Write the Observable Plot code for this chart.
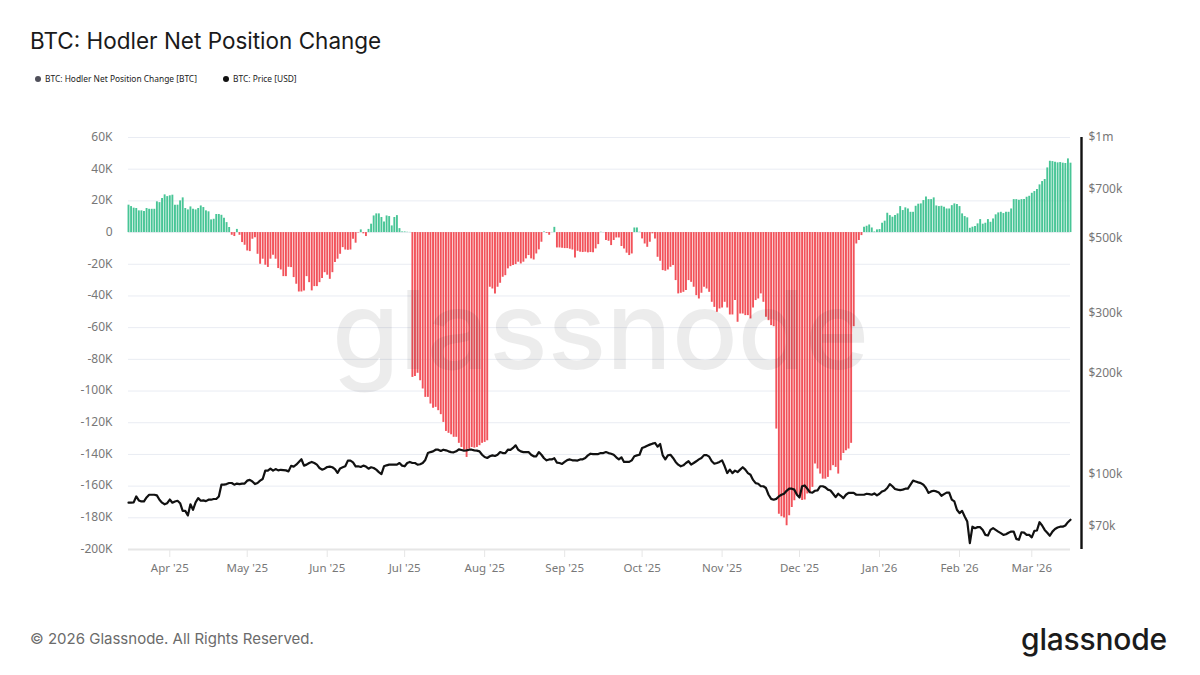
<!DOCTYPE html>
<html>
<head>
<meta charset="utf-8">
<script src="https://cdn.jsdelivr.net/npm/d3@7"></script>
<script src="https://cdn.jsdelivr.net/npm/@observablehq/plot@0.6"></script>
<style>
html,body{margin:0;padding:0;background:#fff;width:1200px;height:675px;overflow:hidden}
#page{position:relative;width:1200px;height:675px;font-family:Inter,"Noto Sans",sans-serif}
#head{position:relative;height:110px}
#title{position:absolute;left:30px;top:27px;font-size:22.5px;line-height:28px;color:#1a1a1a;font-weight:400}
.leg{position:absolute;top:73px;font-family:"Noto Sans",sans-serif;font-size:8.4px;line-height:12px;color:#222;white-space:nowrap}
.leg i{display:inline-block;width:6px;height:6px;border-radius:50%;margin-right:4px;vertical-align:0}
#chart{height:490px}
#chart svg{display:block}
#foot{position:relative;height:75px}
#copy{position:absolute;left:30px;top:29px;font-size:15px;line-height:20px;color:#6b6b6b}
#logo{position:absolute;left:1021px;top:19px;font-size:30px;line-height:40px;font-weight:500;color:#1b1b1b;letter-spacing:-.2px}
#mark{position:absolute;left:332px;top:259px;font-size:109px;line-height:140px;font-weight:500;color:rgba(30,30,40,.085);pointer-events:none}
</style>
</head>
<body>
<div id="page">
  <div id="head">
    <div id="title">BTC: Hodler Net Position Change</div>
    <div class="leg" style="left:35px"><i style="background:#50505a"></i>BTC: Hodler Net Position Change [BTC]</div>
    <div class="leg" style="left:223px"><i style="background:#111"></i>BTC: Price [USD]</div>
  </div>
  <div id="chart"></div>
  <div id="foot">
    <div id="copy">© 2026 Glassnode. All Rights Reserved.</div>
    <div id="logo">glassnode</div>
  </div>
  <div id="mark">glassnode</div>
</div>
<script>
const startDate = "2025-03-16";

// Hodler net position change, thousand BTC, one value per day
const changeMarApr = [17.3,16.4,15.4,15.2,13.7,13.7,13.3,15.2,14.7,14.7,14.7,19.4,18.9,21.5,23.8,22.7,23.2,23.6,17.3,17.3,20,21.9,15.2,14.3,16.2,14.7,14.3,15.2,16.8,15.8,13.7,13.1,8,8.4,11.4,11.4,10.9,9.1,6.3,3.2];
const changeMayJun = [-1.7,-2.5,2,-1.7,-6.3,-8,-11.6,-12,-4.2,-3.2,-13.7,-20,-16.8,-20.6,-22,-16.8,-14.3,-16.8,-22.7,-23.6,-27.8,-27.8,-21.9,-22.1,-28.4,-32.6,-37.5,-37.5,-36.8,-27.8,-31.6,-36.8,-34.1,-34.1,-31.6,-29,-25.3,-26.9,-29.5,-25.3,-18.9,-16.8,-13.7,-9.5,-11,-11.2,-11,-4.2,-6.7,-0.3,1.7,-0.8,-2.5,2,5.3,10.5,11.8,11.8,9.5,6.7,10.5,10.1,4.2,9.5,10.7,2.5,0.4,0.4,0.2,0.1];
const changeJul = [-91.4,-90.9,-88.8,-93.5,-98.7,-104,-104,-108.2,-110.9,-110.3,-112.4,-114.9,-119.8,-125.5,-126.7,-127.6,-129.2,-129.2,-133,-135.6,-137.2,-141.9,-136.6,-135.6,-136,-135.6,-134.5,-133,-132.4,-131.4];
const changeAug = [-34.5,-35.6,-38.7,-34.5,-32,-28.2,-27.2,-22.9,-21.5,-20.8,-20.2,-18.7,-19.8,-18.7,-16.6,-14.5,-16.6,-17.3,-13.5,-10.9,-6.1,0.3,-0.5,-1.7,0.1,3.3];
const changeSep = [-9.7,-9.7,-9.9,-10.1,-10.1,-10.5,-11,-16,-11.8,-12.4,-12.6,-12.4,-12.8,-12.6,-12.8,-10.3,-7.6,0.2,-0.1,-5,-5.5,-8.2,-5,-3.4,-3.4,-8.8,-10.3,-13,-14.5,-13.5,2.9,2.9,0.2];
const changeOctNov = [-4,-7.2,-9.3,-6.1,-0.8,-4,-15.6,-18.1,-24,-24.4,-23.6,-21.9,-20.8,-30.3,-38.7,-38.3,-37.7,-36.6,-30.3,-31.4,-34.5,-39.8,-41.9,-38.3,-34.5,-35.6,-37.7,-44,-47.2,-50.3,-48.2,-47.6,-44,-47.6,-52,-52,-42.9,-56.6,-51.4,-51.4,-52.4,-52.4,-54.5,-47.6,-42.9,-41.9,-38.7,-44,-53.5,-55.6,-58.7,-59.4];
const changeDec = [-124,-177.7,-179.4,-180.2,-185,-178.7,-173.5,-169.2,-166,-166,-169,-168.8,-165,-164,-160.8,-146,-149.2,-152.4,-155.6,-155.6,-154.5,-150.3,-147.1,-148.2,-152.4,-144,-139.4,-137.7,-136.6,-133,-59.4,-7.2,-5,-1.9];
const changeJanMar = [3.4,4,4.8,2.9,0.4,1.7,1.9,5.9,7.2,12.2,10.7,9.7,10.7,11.8,16.4,13.9,15.6,14.9,12.8,12.8,16.6,17.9,18.1,20.2,22.5,20.8,20.8,21.9,16.8,16.4,16.6,16,14.9,14.9,17,18.1,17.7,16.4,11.8,10.1,9.3,2.7,3.4,3.8,5.5,8.2,5.3,5.9,8.2,6.5,8.6,11.2,12.4,12.8,12,12.8,12.8,14.9,20.8,20.8,20.4,20.8,20.8,22.3,22.9,24.8,25.9,27.2,30.1,32.2,33.5,40.8,45,44.8,44.4,44,44.2,43.8,43.6,46.5,43.8];

// BTC price, thousand USD, one value per day
const priceSpringSummer = [82.6,82.6,82.8,86.2,83.9,83.3,83.3,85.6,87.2,87.2,87.2,86.8,84.3,82.6,81.7,82.3,84.4,82.6,83.3,83.7,82.3,78.1,78.1,75.7,81.7,78.7,82.8,85.2,83.7,83.9,83.5,84.3,84.3,84.7,84.7,86.2,93.4,93.4,93.8,94.5,94.5,93.4,94.1,93.8,94.1,94.1,96,96.5,95.5,93.8,94.5,96,97.1,102.8,102.8,104.2,102.8,103.9,103,103.4,103.2,103,102.3,106.2,105.7,107.1,109.1,111.1,106.4,107.1,108.3,109.1,108.3,107.1,104.7,103.5,104.2,105.4,105.7,105.2,103.9,101.2,104.4,105.2,105.9,110.1,110.1,108.8,105.9,105.9,105.4,106.4,105.7,104.2,105.2,104.7,103.5,101.8,100.4,105.9,106.6,107.1,107.1,107.1,107.1,108.3,106.4,105.9,108.3,109.1,108.3,108.3,107.1,107.4,108.3,110.6,115.9,116.7,117.3,118.6,118.6,117.6,118.6,118.1,117.3,116.7,116.5,117.3,118.9,118.4,117.9,118.1,118.6];
const priceAutumn = [118.6,118.1,117.9,117.3,114.6,112.8,112.1,113.4,114.1,113.6,114.6,116.7,115.9,115.9,118.6,118.4,120,122.2,118.6,117.3,116.7,116.7,116.7,114.6,113.4,113.4,116.7,114.6,111.9,110.3,111,111,111.9,108.6,108.3,107.6,109.1,110.5,111,110.3,110.3,110.1,111,111.1,112.1,114.1,115.4,115.1,115.1,115.1,115.9,115.9,116.7,115.9,115.4,114.6,112.6,111,112.6,109.1,109.1,109.1,110.3,113.4,114.1,114.6,120,120.8,121.9,122.8,123.6,124.2,121.1,123.3,114.1,111,114.1,114.6,112.1,109.1,107.1,105.9,106.6,108.3,109.6,107.1,108.3,109.6,111,112.1,114.3,114.3,113.1,109.6,107.8,108.3,109.1,110.3,105.9,101.1,103.5,101.1,102.8,101.8,103.5,105.2,103.5,101.1,100,96.5,94.4,94,92.4,92.4,91.3,87.2,84.8,84.3,84.8,86.2,87.2,87.8,89.6,90.9,90.9,90.3,87.2,85.6,92.4,92.9,90.9];
const priceWinter = [88.7,88.5,89.6,89.8,92.4,92.4,91.7,90.3,89.8,87.8,85.8,87.8,86.6,85.2,87.2,88.3,88.3,88.3,87.2,87.2,87.2,87.2,87.8,87.6,87.2,88,86.8,87.8,89.2,89.8,91.3,93.8,92.4,90.7,90.3,90,90.3,90.9,90.9,93.4,96,95.5,94.9,94.4,93.4,91.3,88.3,89.2,89.6,89.2,88.5,86.6,87.6,88.5,88.5,84.3,83.3,78.7,76.9,78.1,75.2,72.6,62.7,70.1,69.4,69.9,69.9,68.6,66.3,66,68.6,69.4,68.6,67.8,67.1,66.3,66.6,67.3,67.8,67.8,64.5,64.1,67.5,67.3,66.3,66.3,65.2,68.1,68.3,72.3,70.7,68.6,67.3,65.9,67.8,69,69.7,70.1,70.1,70.7,72.3,73.5];

// Axis ticks
const changeTicks = [60,40,20,0,-20,-40,-60,-80,-100,-120,-140,-160,-180,-200];
const priceTicks = [1000,700,500,300,200,100,70];
const priceLabels = ["$1m","$700k","$500k","$300k","$200k","$100k","$70k"];
const monthTicks = ["2025-04-01","2025-05-01","2025-06-01","2025-07-01","2025-08-01","2025-09-01","2025-10-01","2025-11-01","2025-12-01","2026-01-01","2026-02-01","2026-03-01"];

const change = [...changeMarApr,...changeMayJun,...changeJul,...changeAug,...changeSep,...changeOctNov,...changeDec,...changeJanMar];
const price = [...priceSpringSummer,...priceAutumn,...priceWinter];
const day0 = new Date(startDate + "T00:00:00Z");
const rows = change.map((v,i)=>({date:d3.utcDay.offset(day0,i), change:v, price:price[i]}));

// The price runs on its own log axis, mapped onto the shared y scale
const priceToY = d3.scaleLog().domain([60,1000]).range([-200,60]);
const dayEnd = d3.utcDay.offset(day0,365);

const plot = Plot.plot({
  width:1200, height:490,
  marginTop:27, marginBottom:51, marginLeft:128, marginRight:130,
  style:{fontFamily:'"Noto Sans",sans-serif',fontSize:"12px",background:"transparent",overflow:"visible"},
  x:{type:"utc",domain:[day0,dayEnd]},
  y:{domain:[-200,60]},
  marks:[
    Plot.gridY(changeTicks,{stroke:"#e9ecf3",strokeOpacity:1,strokeWidth:1}),
    Plot.ruleY([-200],{stroke:"#e6e6e6",strokeWidth:2}),
    Plot.ruleX(rows.filter(d=>d.change>=0),{x:"date",y1:0,y2:"change",stroke:"#48c596",strokeWidth:1.9}),
    Plot.ruleX(rows.filter(d=>d.change<0),{x:"date",y1:0,y2:"change",stroke:"#f2525a",strokeWidth:1.9}),
    Plot.line(rows,{x:"date",y:d=>priceToY(d.price),stroke:"#111",strokeWidth:2.2,strokeLinejoin:"round"}),
    Plot.ruleX([dayEnd],{dx:11,y1:-200,y2:60,stroke:"#111",strokeWidth:2.4}),
    Plot.axisY(changeTicks,{anchor:"left",label:null,tickSize:0,tickPadding:16,fill:"#777",dy:-0.5,tickFormat:d=>d===0?"0":`${d}K`}),
    Plot.axisY(priceTicks.map(p=>priceToY(p)),{anchor:"right",label:null,tickSize:0,tickPadding:18,fill:"#777",textAnchor:"start",dy:-0.5,tickFormat:(d,i)=>priceLabels[i]}),
    Plot.axisX(monthTicks.map(d=>new Date(d+"T00:00:00Z")),{label:null,tickSize:8,tickPadding:6,stroke:"#e6e6e6",fill:"#777",fontSize:11.5,tickFormat:d=>d3.utcFormat("%b '%y")(d)})
  ]
});
document.getElementById("chart").append(plot);
</script>
</body>
</html>
